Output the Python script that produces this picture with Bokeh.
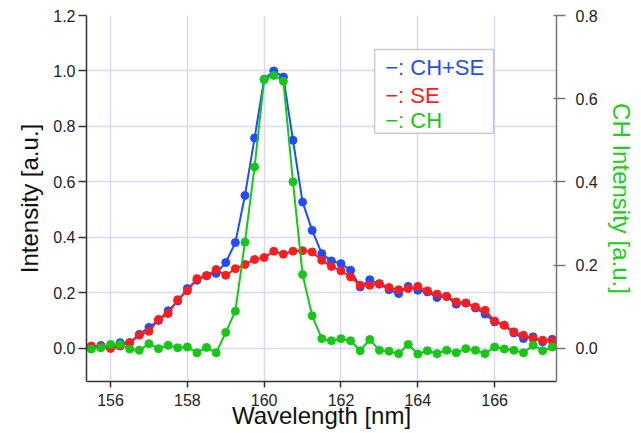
from bokeh.plotting import figure
from bokeh.models import (Range1d, LinearAxis, FixedTicker, BoxAnnotation, Label,
                          NumeralTickFormatter, ColumnDataSource)
from bokeh.embed import file_html
from bokeh.resources import INLINE

# ---------------- data ----------------
wavelength = [155.5, 155.75, 156.0, 156.25, 156.5, 156.75, 157.0, 157.25, 157.5, 157.75,
              158.0, 158.25, 158.5, 158.75, 159.0, 159.25, 159.5, 159.75, 160.0, 160.25,
              160.5, 160.75, 161.0, 161.25, 161.5, 161.75, 162.0, 162.25, 162.5, 162.75,
              163.0, 163.25, 163.5, 163.75, 164.0, 164.25, 164.5, 164.75, 165.0, 165.25,
              165.5, 165.75, 166.0, 166.25, 166.5, 166.75, 167.0, 167.25, 167.5]

ch_se = [0.005, 0.01, 0.005, 0.02, 0.02, 0.05, 0.075, 0.10, 0.135, 0.17,
         0.215, 0.245, 0.262, 0.27, 0.309, 0.381, 0.551, 0.758, 0.97, 1.0,
         0.978, 0.75, 0.527, 0.425, 0.341, 0.315, 0.305, 0.281, 0.221, 0.247,
         0.231, 0.211, 0.197, 0.223, 0.209, 0.203, 0.183, 0.187, 0.159, 0.163,
         0.145, 0.123, 0.095, 0.083, 0.055, 0.035, 0.041, 0.023, 0.032]

se = [0.008, 0.005, -0.001, 0.008, 0.02, 0.047, 0.061, 0.104, 0.125, 0.175,
      0.207, 0.251, 0.261, 0.284, 0.263, 0.287, 0.302, 0.320, 0.327, 0.350,
      0.339, 0.350, 0.352, 0.347, 0.317, 0.295, 0.279, 0.257, 0.227, 0.227,
      0.233, 0.219, 0.211, 0.215, 0.223, 0.207, 0.195, 0.187, 0.167, 0.163,
      0.149, 0.137, 0.098, 0.083, 0.059, 0.047, 0.035, 0.029, 0.026]

ch = [-0.002, 0.001, 0.009, 0.009, -0.002, -0.005, 0.011, -0.001, 0.007, 0.001,
      0.003, -0.011, 0.002, -0.011, 0.038, 0.089, 0.255, 0.436, 0.646, 0.656,
      0.642, 0.40, 0.177, 0.078, 0.023, 0.018, 0.023, 0.018, -0.006, 0.021,
      -0.005, -0.007, -0.013, 0.009, -0.014, -0.006, -0.013, -0.005, -0.011, -0.001,
      -0.005, -0.013, 0.003, -0.002, -0.005, -0.011, 0.007, -0.006, 0.003]

x_ticks = [156, 158, 160, 162, 164, 166]
y_ticks = [0.0, 0.2, 0.4, 0.6, 0.8, 1.0, 1.2]
y2_ticks = [0.0, 0.2, 0.4, 0.6, 0.8]

legend_texts = ["\u2212: CH+SE", "\u2212: SE", "\u2212: CH"]

BLUE = "#1f4cff"
RED = "#ff1c1c"
GREEN = "#14c814"
FONT = "Liberation Sans"

src = ColumnDataSource(dict(x=wavelength, chse=ch_se, se=se, ch=ch))

p = figure(width=641, height=433, output_backend="svg", toolbar_location=None,
           x_range=Range1d(155.375, 167.61), y_range=Range1d(-0.12, 1.2),
           min_border_left=86, min_border_right=85, min_border_top=15,
           min_border_bottom=52)
p.extra_y_ranges = {"ch": Range1d(-0.08, 0.8)}
p.outline_line_color = None
p.background_fill_color = "white"

# grid
p.xgrid.ticker = FixedTicker(ticks=x_ticks)
p.ygrid.ticker = FixedTicker(ticks=y_ticks)
for g in (p.xgrid, p.ygrid):
    g.grid_line_color = "#d8d8fa"
    g.grid_line_width = 1.5

# bottom axis
xa = p.xaxis[0]
xa.ticker = FixedTicker(ticks=x_ticks)
xa.axis_label = "Wavelength [nm]"
xa.axis_label_text_font = FONT
xa.axis_label_text_font_size = "24px"
xa.axis_label_text_font_style = "normal"
xa.axis_label_text_color = "#111111"
xa.axis_label_standoff = -7
xa.major_label_text_font = FONT
xa.major_label_text_font_size = "16px"
xa.major_label_text_color = "#222222"
xa.major_label_standoff = 6
xa.major_tick_out = 6
xa.major_tick_in = 0
xa.minor_tick_line_color = None
xa.axis_line_color = "#333333"
xa.axis_line_width = 1.5
xa.major_tick_line_color = "#333333"
xa.major_tick_line_width = 1.5

# left axis
ya = p.yaxis[0]
ya.ticker = FixedTicker(ticks=y_ticks)
ya.formatter = NumeralTickFormatter(format="0.0")
ya.axis_label = "Intensity [a.u.]"
ya.axis_label_text_font = FONT
ya.axis_label_text_font_size = "24px"
ya.axis_label_text_font_style = "normal"
ya.axis_label_text_color = "#111111"
ya.axis_label_standoff = 7
ya.major_label_text_font = FONT
ya.major_label_text_font_size = "16px"
ya.major_label_text_color = "#222222"
ya.major_label_standoff = 3
ya.major_tick_out = 8
ya.major_tick_in = 0
ya.minor_tick_line_color = None
ya.axis_line_color = "#333333"
ya.axis_line_width = 1.5
ya.major_tick_line_color = "#333333"
ya.major_tick_line_width = 1.5

# right axis
ra = LinearAxis(y_range_name="ch", ticker=FixedTicker(ticks=y2_ticks),
                formatter=NumeralTickFormatter(format="0.0"))
ra.axis_label = "CH Intensity [a.u.]"
ra.axis_label_text_font = FONT
ra.axis_label_text_font_size = "24px"
ra.axis_label_text_font_style = "normal"
ra.axis_label_text_color = "#22cc22"
ra.axis_label_standoff = 7
ra.major_label_text_font = FONT
ra.major_label_text_font_size = "16px"
ra.major_label_text_color = "#222222"
ra.major_label_standoff = 10
ra.major_tick_out = 9
ra.major_tick_in = 3
ra.minor_tick_line_color = None
ra.axis_line_color = "#777777"
ra.axis_line_width = 1.5
ra.major_tick_line_color = "#777777"
ra.major_tick_line_width = 1.5
p.add_layout(ra, "right")

# series: blue under red, green on top
p.line("x", "chse", source=src, line_color=BLUE, line_width=2)
p.scatter("x", "chse", source=src, size=8, fill_color=BLUE, line_color=BLUE)
p.line("x", "se", source=src, line_color=RED, line_width=2)
p.scatter("x", "se", source=src, size=8, fill_color=RED, line_color=RED)
p.line("x", "ch", source=src, line_color=GREEN, line_width=2, y_range_name="ch")
p.scatter("x", "ch", source=src, size=8, fill_color=GREEN, line_color=GREEN,
          y_range_name="ch")

# legend box (text legend like the original)
p.add_layout(BoxAnnotation(left=162.875, right=165.97, top=1.0775, bottom=0.775,
                           fill_color="white", fill_alpha=1.0,
                           line_color="#555555", line_width=1.5, level="overlay"))
for txt, col, yy in zip(legend_texts, [BLUE, RED, GREEN], [1.011, 0.913, 0.822]):
    p.add_layout(Label(x=163.15, y=yy, text=txt, text_color=col,
                       text_font=FONT, text_font_size="22px",
                       text_baseline="middle", level="overlay"))

open("out.html", "w").write(file_html(p, INLINE))
